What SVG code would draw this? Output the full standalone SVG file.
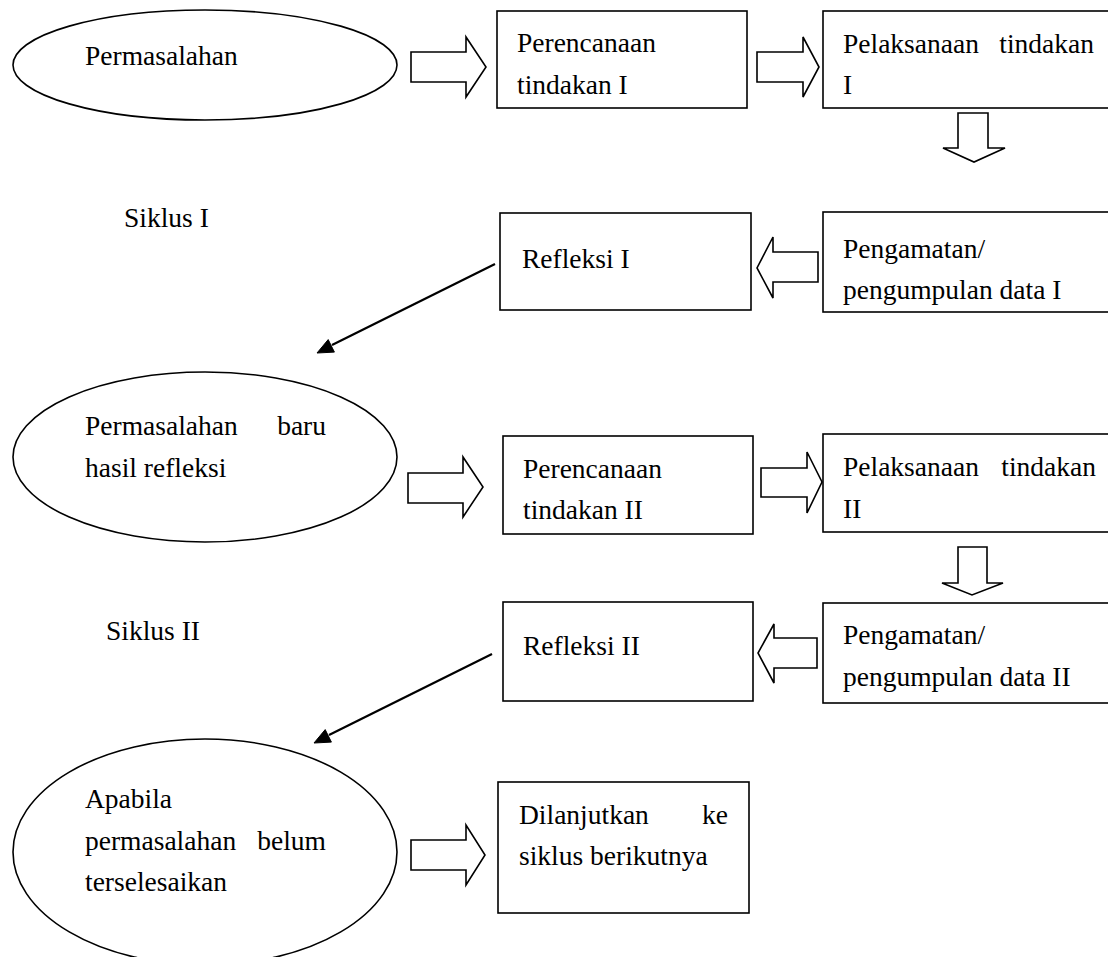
<svg xmlns="http://www.w3.org/2000/svg" width="1108" height="957" viewBox="0 0 1108 957">
<style>
.n{fill:#fff;stroke:#000;stroke-width:1.6}
.b{fill:#fff;stroke:#000;stroke-width:1.6;stroke-linejoin:miter}
.t{font-family:"Liberation Serif","Times New Roman",serif;font-size:27.5px;fill:#000}
.e{text-anchor:end}
.c{stroke:#000;stroke-width:2.2;fill:none}
.h{fill:#000;stroke:#000;stroke-width:1}
</style>
<rect width="1108" height="957" fill="#fff"/>

<g id="n-permasalahan">
<ellipse class="n" cx="205" cy="65" rx="192" ry="55"/>
<text class="t" x="85" y="65">Permasalahan</text>
</g>
<g id="n-perencanaan1">
<rect class="n" x="497" y="11" width="250" height="97"/>
<text class="t" x="517" y="52">Perencanaan</text>
<text class="t" x="517" y="94">tindakan I</text>
</g>
<g id="n-pelaksanaan1">
<rect class="n" x="823" y="11" width="290" height="97"/>
<text class="t" x="843" y="53">Pelaksanaan</text>
<text class="t e" x="1094" y="53">tindakan</text>
<text class="t" x="843" y="94">I</text>
</g>
<g id="n-siklus1">
<text class="t" x="124" y="227">Siklus I</text>
</g>
<g id="n-refleksi1">
<rect class="n" x="500" y="213" width="251" height="97"/>
<text class="t" x="522" y="268">Refleksi I</text>
</g>
<g id="n-pengamatan1">
<rect class="n" x="823" y="212" width="290" height="100"/>
<text class="t" x="843" y="258">Pengamatan/</text>
<text class="t" x="843" y="299">pengumpulan data I</text>
</g>
<g id="n-permasalahan-baru">
<ellipse class="n" cx="205" cy="457" rx="192" ry="85"/>
<text class="t" x="85" y="435">Permasalahan</text>
<text class="t e" x="326" y="435">baru</text>
<text class="t" x="85" y="477">hasil refleksi</text>
</g>
<g id="n-perencanaan2">
<rect class="n" x="503" y="436" width="250" height="98"/>
<text class="t" x="523" y="478">Perencanaan</text>
<text class="t" x="523" y="519">tindakan II</text>
</g>
<g id="n-pelaksanaan2">
<rect class="n" x="823" y="434" width="290" height="98"/>
<text class="t" x="843" y="476">Pelaksanaan</text>
<text class="t e" x="1096" y="476">tindakan</text>
<text class="t" x="843" y="518">II</text>
</g>
<g id="n-siklus2">
<text class="t" x="106" y="640">Siklus II</text>
</g>
<g id="n-refleksi2">
<rect class="n" x="503" y="602" width="250" height="99"/>
<text class="t" x="523" y="655">Refleksi II</text>
</g>
<g id="n-pengamatan2">
<rect class="n" x="823" y="603" width="290" height="100"/>
<text class="t" x="843" y="644">Pengamatan/</text>
<text class="t" x="843" y="686">pengumpulan data II</text>
</g>
<g id="n-apabila">
<ellipse class="n" cx="205" cy="852" rx="192" ry="113"/>
<text class="t" x="85" y="808">Apabila</text>
<text class="t" x="85" y="850">permasalahan</text>
<text class="t e" x="326" y="850">belum</text>
<text class="t" x="85" y="891">terselesaikan</text>
</g>
<g id="n-dilanjutkan">
<rect class="n" x="498" y="782" width="251" height="131"/>
<text class="t" x="519" y="824">Dilanjutkan</text>
<text class="t e" x="728" y="824">ke</text>
<text class="t" x="519" y="865">siklus berikutnya</text>
</g>

<g id="connectors">
<path class="b" d="M411,52 H466 V37 L486,67 L466,97 V82 H411 Z"/>
<path class="b" d="M757,52 H803 V37 L819,67 L803,97 V82 H757 Z"/>
<path class="b" d="M958,113 H988 V148 H1005 L974,162 L943,148 H958 Z"/>
<path class="b" d="M818,252 H773 V237 L757,268 L773,298 V282 H818 Z"/>
<path class="c" d="M495,264 L332,345"/>
<polygon class="h" points="317,353 334.4,352.1 328.2,339.6"/>
<path class="b" d="M408,473 H463 V457 L483,487 L463,517 V503 H408 Z"/>
<path class="b" d="M761,468 H807 V452 L822,482 L807,513 V497 H761 Z"/>
<path class="b" d="M958,547 H987 V583 H1003 L972,595 L942,583 H958 Z"/>
<path class="b" d="M817,638 H774 V624 L758,653 L774,683 V668 H817 Z"/>
<path class="c" d="M492,654 L329,735"/>
<polygon class="h" points="314,743 331.4,742.1 325.2,729.6"/>
<path class="b" d="M411,840 H466 V825 L485,855 L466,885 V870 H411 Z"/>
</g>
</svg>
